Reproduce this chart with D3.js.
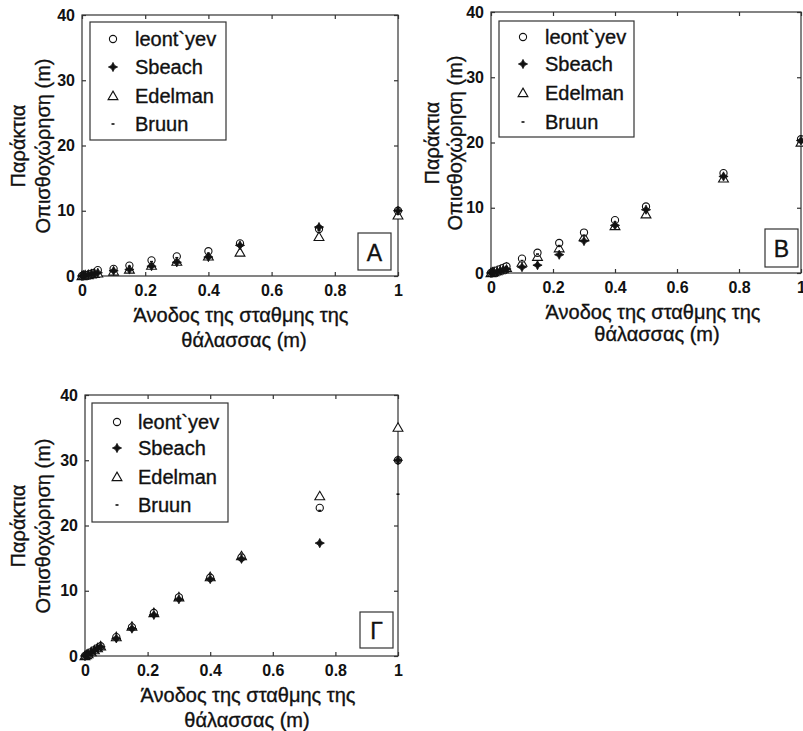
<!DOCTYPE html>
<html><head><meta charset="utf-8">
<script src="https://cdn.jsdelivr.net/npm/d3@7"></script>
<style>body{margin:0;background:#fff}svg{display:block}</style>
</head><body>
<svg id="c" width="803" height="731"></svg>
<script>
const xValues = [0, 0.005, 0.01, 0.02, 0.03, 0.04, 0.05, 0.1, 0.15, 0.22, 0.3, 0.4, 0.5, 0.75, 1.0];
const seriesNames = ["leont`yev", "Sbeach", "Edelman", "Bruun"];
const xTicks = [0, 0.2, 0.4, 0.6, 0.8, 1];
const xTickLabels = ["0", "0.2", "0.4", "0.6", "0.8", "1"];
const yTicks = [0, 10, 20, 30, 40];
const yTitle = ["Παράκτια", "Οπισθοχώρηση (m)"];
const xTitle = ["Άνοδος της σταθμης της", "θάλασσας (m)"];
const panelLetters = ["A", "B", "Γ"];

// Panel A
const leontA   = [0, 0.05, 0.1, 0.2, 0.35, 0.5, 0.9, 1.1, 1.6, 2.4, 3.0, 3.8, 5.0, 7.2, 10.0];
const sbeachA  = [0, 0.05, 0.1, 0.2, 0.3, 0.4, 0.5, 0.8, 1.0, 1.5, 2.1, 2.9, 4.7, 7.5, 10.0];
const edelmanA = [0, 0.05, 0.1, 0.15, 0.25, 0.35, 0.4, 0.7, 1.0, 1.6, 2.2, 3.0, 3.6, 6.0, 9.3];
const bruunA   = [0, 0.05, 0.1, 0.2, 0.3, 0.4, 0.5, 1.0, 1.5, 2.2, 2.8, 3.5, 4.5, 7.0, 9.7];
// Panel B
const leontB   = [0, 0.1, 0.2, 0.4, 0.6, 0.8, 1.0, 2.2, 3.1, 4.6, 6.2, 8.1, 10.2, 15.3, 20.5];
const sbeachB  = [0, 0.05, 0.1, 0.2, 0.35, 0.5, 0.6, 0.9, 1.2, 2.8, 4.9, 7.3, 9.7, 14.8, 20.3];
const edelmanB = [0, 0.08, 0.15, 0.3, 0.45, 0.6, 0.8, 1.6, 2.5, 3.8, 5.5, 7.2, 9.0, 14.5, 20.0];
const bruunB   = [0, 0.1, 0.2, 0.35, 0.55, 0.75, 0.95, 1.9, 2.9, 4.2, 5.8, 7.8, 9.8, 15.0, 20.3];
// Panel Γ
const leontC   = [0, 0.15, 0.3, 0.6, 0.9, 1.2, 1.5, 2.9, 4.4, 6.6, 9.0, 12.0, 15.1, 22.7, 30.0];
const sbeachC  = [0, 0.15, 0.3, 0.6, 0.9, 1.2, 1.4, 2.7, 4.2, 6.3, 8.7, 11.8, 14.9, 17.3, 30.0];
const edelmanC = [0, 0.15, 0.3, 0.6, 0.9, 1.2, 1.5, 2.9, 4.5, 6.6, 9.0, 12.1, 15.3, 24.5, 35.0];
const bruunC   = [0, 0.15, 0.3, 0.6, 0.9, 1.2, 1.5, 2.9, 4.4, 6.5, 8.9, 11.9, 15.0, 22.3, 24.8];

const panels = [
  {letter: panelLetters[0], data: [leontA, sbeachA, edelmanA, bruunA],
   left: 82, right: 398, top: 15, bottom: 276,
   leg: {x: 90, y: 22, w: 136, h: 118, rows: [39, 67, 96, 124], mx: 113, tx: 135},
   box: {x: 358, y: 233, w: 33, h: 37},
   ylab: [18, 43], ylabY: 146, xlab: [[241, 315], [244, 340]]},
  {letter: panelLetters[1], data: [leontB, sbeachB, edelmanB, bruunB],
   left: 491, right: 801, top: 12, bottom: 273,
   leg: {x: 499, y: 21, w: 135, h: 116, rows: [37, 64, 93, 122], mx: 523, tx: 545},
   box: {x: 765, y: 229, w: 33, h: 38},
   ylab: [432, 455], ylabY: 143, xlab: [[653, 312], [657, 334]]},
  {letter: panelLetters[2], data: [leontC, sbeachC, edelmanC, bruunC],
   left: 85, right: 398, top: 395, bottom: 656,
   leg: {x: 92, y: 403, w: 136, h: 119, rows: [422, 448, 477, 505], mx: 117, tx: 138},
   box: {x: 360, y: 612, w: 33, h: 36},
   ylab: [18, 43], ylabY: 526, xlab: [[248, 695], [247, 720]]}
];

const svg = d3.select("#c");
const FONT = "Arial, 'Liberation Sans', Helvetica, sans-serif";
const ink = "#111";

const star4 = {
  draw(ctx, size) {
    const r = Math.sqrt(size) * 0.75, q = r * 0.34;
    ctx.moveTo(0, -r); ctx.lineTo(q, -q); ctx.lineTo(r, 0); ctx.lineTo(q, q);
    ctx.lineTo(0, r); ctx.lineTo(-q, q); ctx.lineTo(-r, 0); ctx.lineTo(-q, -q); ctx.closePath();
  }
};

function drawMarker(g, k, x, y) {
  if (k === 0) {
    g.append("circle").attr("cx", x).attr("cy", y).attr("r", 3.6)
      .attr("fill", "#fff").attr("stroke", ink).attr("stroke-width", 1.1);
  } else if (k === 1) {
    g.append("path").attr("d", d3.symbol(star4, 38)())
      .attr("transform", `translate(${x},${y})`).attr("fill", ink)
      .attr("stroke", ink).attr("stroke-width", 0.8);
  } else if (k === 2) {
    g.append("path").attr("d", d3.symbol(d3.symbolTriangle, 42)())
      .attr("transform", `translate(${x},${y + 0.8})`).attr("fill", "#fff")
      .attr("stroke", ink).attr("stroke-width", 1.1);
  } else {
    g.append("rect").attr("x", x - 1.5).attr("y", y - 0.8).attr("width", 3).attr("height", 1.6)
      .attr("fill", ink);
  }
}

function heavy(sel) {
  return sel.attr("stroke", ink).attr("stroke-width", 0.35);
}

panels.forEach(p => {
  const x = d3.scaleLinear().domain([0, 1]).range([p.left, p.right]);
  const y = d3.scaleLinear().domain([0, 40]).range([p.bottom, p.top]);
  const g = svg.append("g");

  g.append("rect").attr("x", p.left).attr("y", p.top)
    .attr("width", p.right - p.left).attr("height", p.bottom - p.top)
    .attr("fill", "none").attr("stroke", "#333").attr("stroke-width", 1.2);

  const xb = g.append("g").attr("transform", `translate(0,${p.bottom})`)
    .call(d3.axisBottom(x).tickValues(xTicks).tickSize(-4).tickPadding(9)
      .tickFormat((d, i) => xTickLabels[i]));
  const xt = g.append("g").attr("transform", `translate(0,${p.top})`)
    .call(d3.axisTop(x).tickValues(xTicks).tickSize(-4).tickFormat(""));
  const yl = g.append("g").attr("transform", `translate(${p.left},0)`)
    .call(d3.axisLeft(y).tickValues(yTicks).tickSize(-4).tickPadding(7));
  const yr = g.append("g").attr("transform", `translate(${p.right},0)`)
    .call(d3.axisRight(y).tickValues(yTicks).tickSize(-4).tickFormat(""));
  [xb, xt, yl, yr].forEach(a => {
    a.select(".domain").remove();
    a.selectAll(".tick line").attr("stroke", "#333").attr("stroke-width", 1.2);
    a.selectAll("text").attr("font-family", FONT).attr("font-size", 16)
      .attr("font-weight", "bold").attr("fill", ink);
  });

  const pts = g.append("g");
  [2, 0, 3, 1].forEach(k => {
    p.data[k].forEach((v, i) => drawMarker(pts, k, x(xValues[i]), y(v)));
  });

  g.append("rect").attr("x", p.leg.x).attr("y", p.leg.y).attr("width", p.leg.w).attr("height", p.leg.h)
    .attr("fill", "#fff").attr("stroke", "#333").attr("stroke-width", 1.2);
  seriesNames.forEach((n, k) => {
    drawMarker(g, k, p.leg.mx, p.leg.rows[k]);
    heavy(g.append("text").attr("x", p.leg.tx).attr("y", p.leg.rows[k])
      .attr("dominant-baseline", "central").attr("font-family", FONT)
      .attr("font-size", 20).attr("fill", ink).text(n));
  });

  g.append("rect").attr("x", p.box.x).attr("y", p.box.y).attr("width", p.box.w).attr("height", p.box.h)
    .attr("fill", "#fff").attr("stroke", "#333").attr("stroke-width", 1.2);
  heavy(g.append("text").attr("x", p.box.x + p.box.w / 2).attr("y", p.box.y + p.box.h / 2 + 1)
    .attr("text-anchor", "middle").attr("dominant-baseline", "central")
    .attr("font-family", FONT).attr("font-size", 23).attr("fill", ink).text(p.letter));

  yTitle.forEach((t, i) => {
    heavy(g.append("text").attr("transform", `translate(${p.ylab[i]},${p.ylabY}) rotate(-90)`)
      .attr("text-anchor", "middle").attr("dominant-baseline", "central")
      .attr("font-family", FONT).attr("font-size", 20).attr("fill", ink).text(t));
  });
  xTitle.forEach((t, i) => {
    heavy(g.append("text").attr("x", p.xlab[i][0]).attr("y", p.xlab[i][1])
      .attr("text-anchor", "middle").attr("dominant-baseline", "central")
      .attr("font-family", FONT).attr("font-size", 20).attr("fill", ink).text(t));
  });
});
</script>
</body></html>
